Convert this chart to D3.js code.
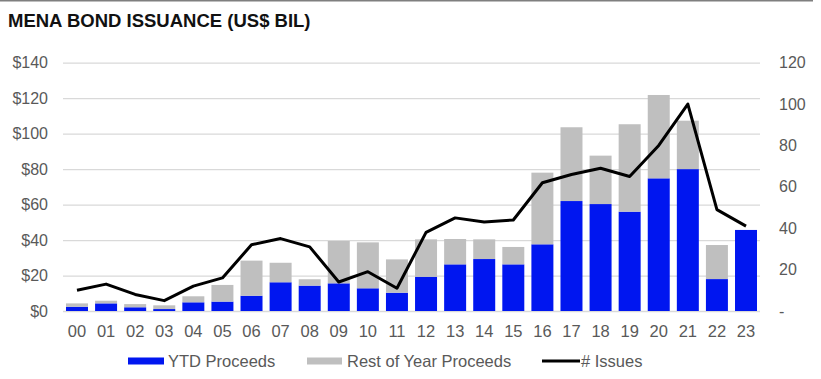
<!DOCTYPE html>
<html><head><meta charset="utf-8">
<script src="https://cdn.jsdelivr.net/npm/d3@7"></script>
<style>
html,body{margin:0;padding:0;background:#fff;}
svg{display:block;font-family:"Liberation Sans",Arial,sans-serif;}
</style></head>
<body>
<svg id="c" width="821" height="379"></svg>
<script>
const years = ["00","01","02","03","04","05","06","07","08","09","10","11","12","13","14","15","16","17","18","19","20","21","22","23"];
const ytdProceeds = [2.4,4.3,2.1,1.1,4.9,5.3,8.6,16.2,14.3,15.6,12.8,10.3,19.3,26.3,29.3,26.3,37.6,62.0,60.3,56.0,74.8,80.0,18.0,45.7];
const restOfYear = [1.9,1.5,1.8,2.1,3.4,9.4,19.8,11.0,3.6,23.9,25.9,18.8,21.1,14.3,11.1,9.8,40.4,41.6,27.3,49.3,47.0,27.3,19.2,0];
const issues = [10,13,8,5,12,16,32,35,31,14,19,11,38,45,43,44,62,66,69,65,80,100,49,41];
const leftTicks = [0,20,40,60,80,100,120,140];
const rightTicks = [0,20,40,60,80,100,120];

const svg = d3.select("#c");
const pLeft = 63, pRight = 760, pTop = 62.7, pBottom = 311;
const txt = "#595959";

svg.append("line").attr("x1",0).attr("x2",813).attr("y1",0.75).attr("y2",0.75)
  .attr("stroke","#7f7f7f").attr("stroke-width",1.5);

svg.append("text").attr("x",8).attr("y",27).attr("font-weight","bold")
  .attr("font-size",18.5).attr("fill","#111").text("MENA BOND ISSUANCE (US$ BIL)");

const x = d3.scaleBand().domain(years).range([pLeft,pRight]).paddingInner(0.244).paddingOuter(0.103);
const yL = d3.scaleLinear().domain([0,140]).range([pBottom,pTop]);
const yR = d3.scaleLinear().domain([0,120]).range([pBottom,pTop]);

// gridlines
const gl = d3.axisLeft(yL).tickValues(leftTicks).tickSize(-(pRight-pLeft)).tickFormat("");
const gG = svg.append("g").attr("transform",`translate(${pLeft},0)`).call(gl);
gG.select(".domain").remove();
gG.selectAll("line").attr("stroke","#d9d9d9").attr("stroke-width",1.3);

// left axis labels
const aL = svg.append("g").attr("transform",`translate(${pLeft},0)`)
  .call(d3.axisLeft(yL).tickValues(leftTicks).tickSize(0).tickPadding(15).tickFormat(d=>"$"+d));
aL.select(".domain").remove();
aL.selectAll("text").attr("font-size",16).attr("fill",txt).attr("font-family","Liberation Sans, Arial, sans-serif");

// right axis labels
const aR = svg.append("g").attr("transform",`translate(${pRight},0)`)
  .call(d3.axisRight(yR).tickValues(rightTicks).tickSize(0).tickPadding(19).tickFormat(d=>d===0?"-":d));
aR.select(".domain").remove();
aR.selectAll("text").attr("font-size",16).attr("fill",txt).attr("font-family","Liberation Sans, Arial, sans-serif");

// x axis labels
const aX = svg.append("g").attr("transform",`translate(0,${pBottom})`)
  .call(d3.axisBottom(x).tickSize(0).tickPadding(14));
aX.select(".domain").remove();
aX.selectAll("text").attr("font-size",16.5).attr("fill",txt).attr("font-family","Liberation Sans, Arial, sans-serif");

// stacked bars
const rows = years.map((y,i)=>({year:y, ytd:ytdProceeds[i], rest:restOfYear[i]}));
const stack = d3.stack().keys(["ytd","rest"])(rows);
const colors = {ytd:"#0016f0", rest:"#bfbfbf"};
svg.append("g").selectAll("g").data(stack).join("g")
  .attr("fill",d=>colors[d.key])
  .selectAll("rect").data(d=>d).join("rect")
  .attr("x",d=>x(d.data.year)).attr("width",x.bandwidth())
  .attr("y",d=>yL(d[1])).attr("height",d=>Math.max(0,yL(d[0])-yL(d[1])));

// line
const line = d3.line().x((d,i)=>x(years[i])+x.bandwidth()/2).y(d=>yR(d));
svg.append("path").datum(issues).attr("d",line).attr("fill","none")
  .attr("stroke","#000").attr("stroke-width",3).attr("stroke-linejoin","round");

// legend
const lg = svg.append("g");
const ly = 361;
lg.append("rect").attr("x",128).attr("y",ly-3.5).attr("width",36).attr("height",7).attr("fill",colors.ytd);
lg.append("text").attr("x",168).attr("y",ly+6).attr("font-size",16.5).attr("fill",txt).text("YTD Proceeds");
lg.append("rect").attr("x",307).attr("y",ly-3.5).attr("width",35).attr("height",7).attr("fill",colors.rest);
lg.append("text").attr("x",347).attr("y",ly+6).attr("font-size",16.5).attr("fill",txt).text("Rest of Year Proceeds");
lg.append("line").attr("x1",542).attr("x2",580).attr("y1",ly).attr("y2",ly).attr("stroke","#000").attr("stroke-width",3);
lg.append("text").attr("x",581).attr("y",ly+6).attr("font-size",16.5).attr("fill",txt).text("# Issues");
</script>
</body></html>
